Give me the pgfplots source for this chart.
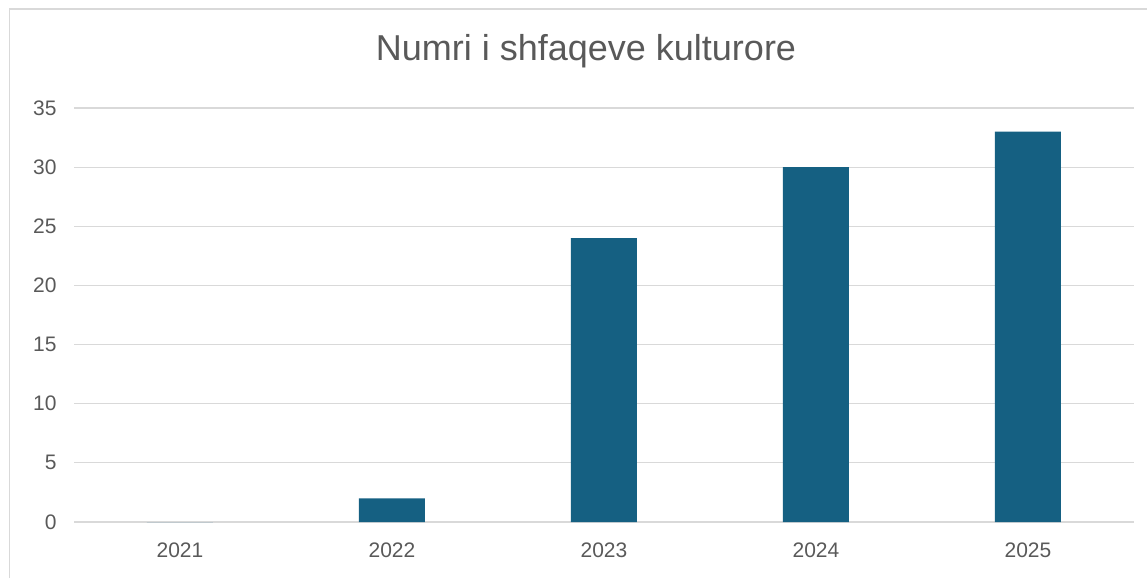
\documentclass[border=0pt]{standalone}
\usepackage{pgfplots}
\pgfplotsset{compat=1.18}
\usepackage{fontspec}
\setmainfont{Liberation Sans}
\definecolor{barc}{HTML}{156082}
\definecolor{txtc}{HTML}{595959}
\definecolor{gridc}{HTML}{D9D9D9}
\begin{document}
\begin{tikzpicture}[x=1pt,y=1pt]
\useasboundingbox (0,0) rectangle (1147,578);
\draw[draw=gridc, line width=1.2pt] (9.5,0) -- (9.5,569) -- (1147,569);
\node[text=txtc, font=\fontsize{36}{40}\selectfont] at (586,527) {Numri i shfaqeve kulturore};
\begin{axis}[
  at={(74pt,56pt)}, anchor=south west,
  scale only axis, width=1060pt, height=414pt,
  xmin=-0.5, xmax=4.5, ymin=0, ymax=35,
  axis line style={draw=none},
  xtick={0,1,2,3,4}, xticklabels={2021,2022,2023,2024,2025},
  ytick={0,5,...,35},
  xmajorgrids=false, ymajorgrids, major grid style={draw=gridc, line width=1.2pt},
  major tick length=0pt, tick style={draw=none},
  tick label style={text=txtc, font=\fontsize{21}{24}\selectfont},
  /pgf/number format/assume math mode=true,
  yticklabel style={anchor=east, xshift=-14pt},
  xticklabel style={yshift=-17pt},
  ybar, bar width=66pt,
]
\addplot[fill=barc, draw=none] coordinates {(0,0) (1,2) (2,24) (3,30) (4,33)};
\end{axis}
\end{tikzpicture}
\end{document}
